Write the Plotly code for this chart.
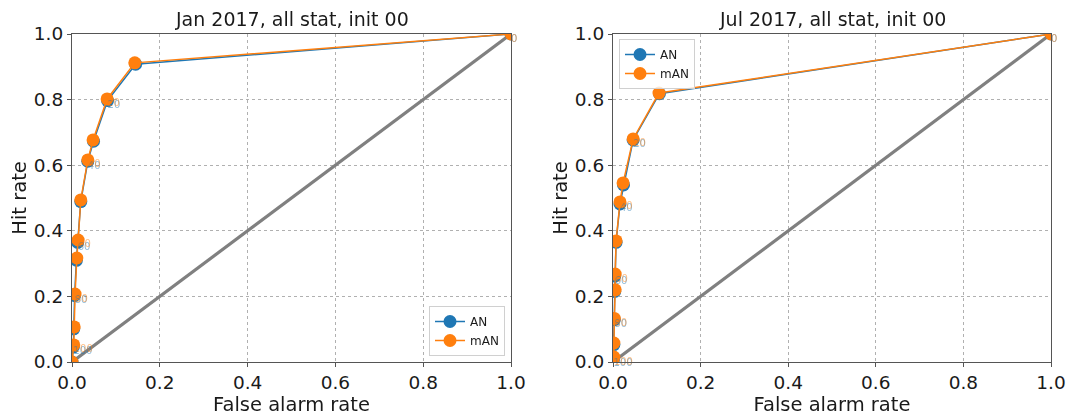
import plotly.graph_objects as go

# ROC points per panel: thresholds 0..100 step 10, then the (0,0) end point
thresholds = [0, 10, 20, 30, 40, 50, 60, 70, 80, 90, 100, None]

jan_far_man = [1.0, 0.143, 0.080, 0.048, 0.036, 0.020, 0.014, 0.011, 0.007, 0.005, 0.004, 0.0]
jan_hit_man = [1.0, 0.912, 0.802, 0.677, 0.616, 0.494, 0.372, 0.317, 0.207, 0.107, 0.052, 0.0]
jan_far_an = [1.0, 0.145, 0.081, 0.049, 0.036, 0.020, 0.013, 0.010, 0.006, 0.004, 0.003, 0.0]
jan_hit_an = [1.0, 0.908, 0.797, 0.673, 0.612, 0.489, 0.365, 0.310, 0.203, 0.101, 0.046, 0.0]

jul_far_man = [1.0, 0.105, 0.046, 0.023, 0.016, 0.007, 0.005, 0.005, 0.003, 0.002, 0.002, 0.0]
jul_hit_man = [1.0, 0.820, 0.680, 0.546, 0.488, 0.369, 0.268, 0.220, 0.133, 0.058, 0.015, 0.0]
jul_far_an = [1.0, 0.106, 0.046, 0.024, 0.016, 0.007, 0.004, 0.004, 0.003, 0.002, 0.001, 0.0]
jul_hit_an = [1.0, 0.818, 0.677, 0.540, 0.482, 0.365, 0.262, 0.215, 0.129, 0.053, 0.011, 0.0]

titles = ["Jan 2017, all stat, init 00", "Jul 2017, all stat, init 00"]
tick_vals = [0.0, 0.2, 0.4, 0.6, 0.8, 1.0]
tick_text = ["0.0", "0.2", "0.4", "0.6", "0.8", "1.0"]

BLUE = "#1f77b4"
ORANGE = "#ff7f0e"
FONT = "DejaVu Sans"
TXT = "#1a1a1a"

W, H = 1073, 417
ML, MR, MT, MB = 72, 22, 34, 55
PW = W - ML - MR
PH = H - MT - MB
# panel extents in pixels from the left edge of the figure
panels_px = [(72, 511), (613, 1051)]

fig = go.Figure()

datasets = [
    (jan_far_an, jan_hit_an, jan_far_man, jan_hit_man),
    (jul_far_an, jul_hit_an, jul_far_man, jul_hit_man),
]

for i, (fa, ha, fm, hm) in enumerate(datasets):
    xa = "x" if i == 0 else "x2"
    ya = "y" if i == 0 else "y2"
    # no-skill diagonal
    fig.add_trace(go.Scatter(x=[0, 1], y=[0, 1], mode="lines",
                             line=dict(color="#808080", width=3.2),
                             showlegend=False, hoverinfo="skip",
                             xaxis=xa, yaxis=ya))
    for far, hit, name, col in [(fa, ha, "AN", BLUE), (fm, hm, "mAN", ORANGE)]:
        fig.add_trace(go.Scatter(x=far, y=hit, mode="lines+markers", name=name,
                                 line=dict(color=col, width=1.5),
                                 marker=dict(color=col, size=13),
                                 legend="legend" if i == 0 else "legend2",
                                 cliponaxis=True, xaxis=xa, yaxis=ya))
    # threshold labels (every other threshold)
    for far, hit, col in [(fa, ha, BLUE), (fm, hm, ORANGE)]:
        lx, ly, lt = [], [], []
        for t, x, y in zip(thresholds, far, hit):
            if t is not None and t % 20 == 0:
                lx.append(x)
                ly.append(y)
                lt.append(str(t))
        fig.add_trace(go.Scatter(x=lx, y=ly, mode="text", text=lt,
                                 textposition="bottom right",
                                 textfont=dict(family=FONT, size=10, color=col),
                                 opacity=0.5, showlegend=False, hoverinfo="skip",
                                 cliponaxis=False, xaxis=xa, yaxis=ya))

axis_common = dict(range=[0, 1], tickmode="array", tickvals=tick_vals, ticktext=tick_text,
                   showgrid=True, gridcolor="#b0b0b0", griddash="dot", gridwidth=0.8,
                   showline=True, linecolor="#555555", linewidth=1.2, mirror=True,
                   ticks="outside", ticklen=4, tickcolor="#555555",
                   tickfont=dict(family=FONT, size=18.5, color=TXT),
                   ticklabeloverflow="allow",
                   zeroline=False, automargin=False)

layout = dict(width=W, height=H, margin=dict(l=ML, r=MR, t=MT, b=MB),
              paper_bgcolor="white", plot_bgcolor="white", showlegend=True,
              font=dict(family=FONT, color=TXT))

for i, (x0, x1) in enumerate(panels_px):
    sfx = "" if i == 0 else "2"
    layout["xaxis" + sfx] = dict(axis_common, domain=[(x0 - ML) / PW, (x1 - ML) / PW],
                                 anchor="y" + sfx,
                                 title=dict(text="False alarm rate", standoff=1,
                                            font=dict(family=FONT, size=19.5, color=TXT)))
    layout["yaxis" + sfx] = dict(axis_common, domain=[0, 1], anchor="x" + sfx,
                                 title=dict(text="Hit rate", standoff=1,
                                            font=dict(family=FONT, size=19.5, color=TXT)))

legend_style = dict(bgcolor="rgba(255,255,255,0.8)", bordercolor="#d0d0d0",
                    borderwidth=1, font=dict(family=FONT, size=12, color=TXT),
                    itemwidth=30, tracegroupgap=0)
layout["legend"] = dict(legend_style, xref="paper", yref="paper",
                        x=(505 - ML) / PW, y=(362 - 356) / PH,
                        xanchor="right", yanchor="bottom")
layout["legend2"] = dict(legend_style, xref="paper", yref="paper",
                         x=(619 - ML) / PW, y=1 - (39 - MT) / PH,
                         xanchor="left", yanchor="top")

annotations = []
for i, (x0, x1) in enumerate(panels_px):
    annotations.append(dict(text=titles[i], xref="paper", yref="paper",
                            x=((x0 + x1) / 2 - ML) / PW, y=1 + 2 / PH,
                            xanchor="center", yanchor="bottom", showarrow=False,
                            font=dict(family=FONT, size=19, color=TXT)))
layout["annotations"] = annotations

fig.update_layout(**layout)
fig.write_html("out.html")
